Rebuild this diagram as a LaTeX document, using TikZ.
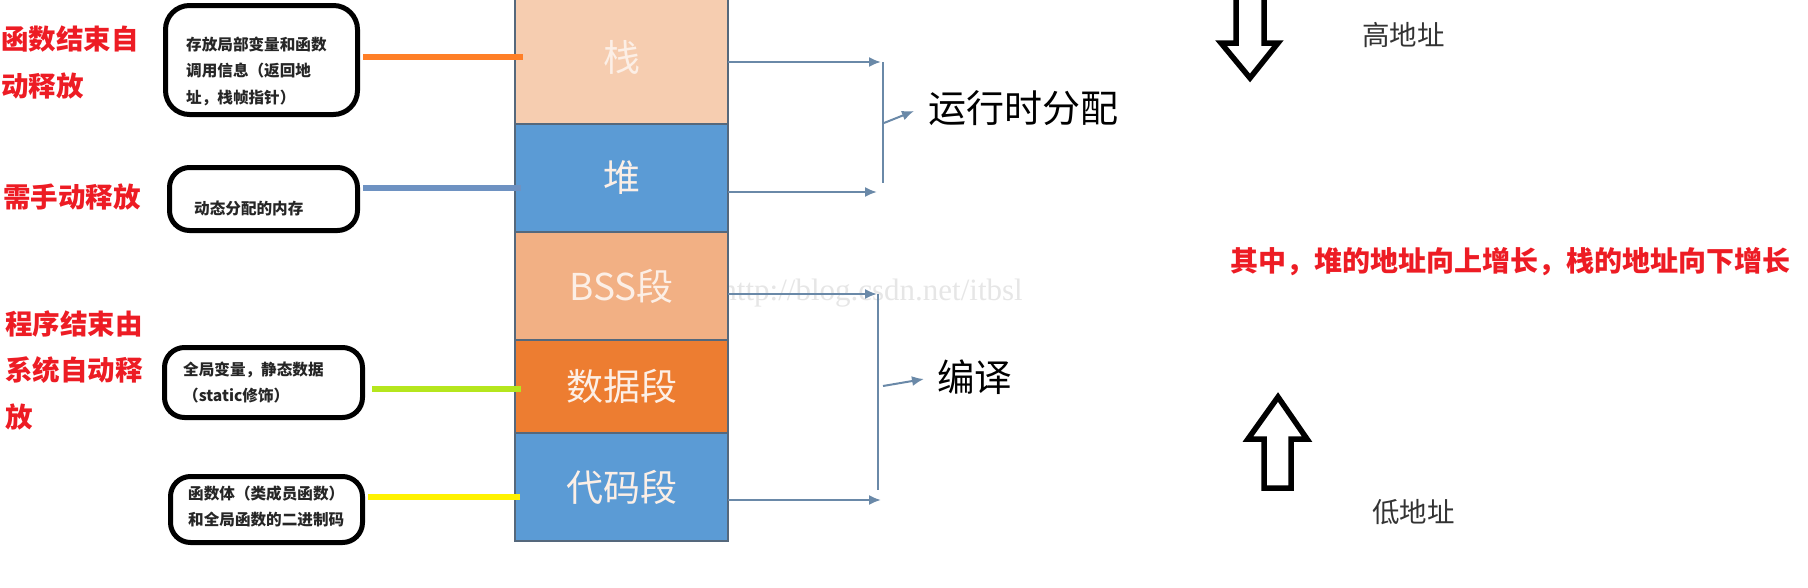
\documentclass[tikz,border=0pt]{standalone}
\usepackage{fontspec}
\setmainfont{Noto Sans CJK SC}
\newfontfamily\wmfont{Liberation Serif}
\usetikzlibrary{arrows.meta}
\definecolor{redT}{HTML}{ED1C24}
\definecolor{stackc}{HTML}{F6CDB0}
\definecolor{heapc}{HTML}{5B9BD5}
\definecolor{bssc}{HTML}{F2B084}
\definecolor{datac}{HTML}{ED7D31}
\definecolor{codec}{HTML}{5B9BD5}
\definecolor{segborder}{HTML}{55687C}
\definecolor{segtext}{HTML}{FCEFE6}
\definecolor{orangeL}{HTML}{FF7F27}
\definecolor{blueL}{HTML}{6E92C2}
\definecolor{greenL}{HTML}{B5E61D}
\definecolor{yellowL}{HTML}{FFF200}
\definecolor{flowc}{HTML}{6A89A8}
\definecolor{wmc}{HTML}{E6E6E6}
\begin{document}
\begin{tikzpicture}[x=1pt,y=-1pt,
  redlbl/.style={font=\bfseries\fontsize{27.5}{46.5}\selectfont, text=redT, align=left, inner sep=0pt, anchor=west},
  notebox/.style={draw=black, line width=5pt, rounded corners=20pt, inner sep=0pt, outer sep=0pt},
  notetext/.style={font=\bfseries\fontsize{15.6}{26.5}\selectfont, text=black!85, align=left, inner sep=0pt, anchor=west},
  seg/.style={draw=segborder, line width=2pt, minimum width=213pt, inner sep=0pt, outer sep=0pt, text=segtext, font=\fontsize{37}{37}\selectfont},
  link/.style={line width=5.5pt},
  flow/.style={draw=flowc, line width=2pt, -{Latex[length=12pt,width=10pt]}},
  flowline/.style={draw=flowc, line width=2pt},
  bigtext/.style={font=\fontsize{38}{38}\selectfont, text=black, inner sep=0pt, anchor=west},
  addr/.style={font=\fontsize{27.5}{27.5}\selectfont, text=black!80, inner sep=0pt, anchor=west},
  hollow/.style={draw=black, line width=5.5pt, line join=miter}
]
\useasboundingbox (0,0) rectangle (1808,587);

% watermark
\node[font=\wmfont\fontsize{31}{31}\selectfont, text=wmc, inner sep=0pt, anchor=base east] (wm) at (1023,300) {http://blog.csdn.net/itbsl};

% red labels
\node[redlbl] (l1) at (1,62.5) {函数结束自\\动释放};
\node[redlbl] (l2) at (3,197) {需手动释放};
\node[redlbl] (l3) at (5,370) {程序结束由\\系统自动释\\放};

% note boxes
\node[notebox, rounded corners=24pt, minimum width=192pt, minimum height=109pt] (b1) at (261.5,60) {};
\node[notebox, minimum width=188pt, minimum height=63pt] (b2) at (263.5,199) {};
\node[notebox, minimum width=198pt, minimum height=70pt] (b3) at (263.5,382.5) {};
\node[notebox, minimum width=192pt, minimum height=66pt] (b4) at (266.5,509.5) {};

\node[notetext] (t1) at (186,71) {存放局部变量和函数\\调用信息（返回地\\址，栈帧指针）};
\node[notetext] (t2) at (194,208) {动态分配的内存};
\node[notetext] (t3) at (183,382.5) {全局变量，静态数据\\（static修饰）};
\node[notetext] (t4) at (188,506.5) {函数体（类成员函数）\\和全局函数的二进制码};

% memory column
\node[seg, fill=stackc, minimum height=134pt] (stack) at (621.5,57) {栈};
\node[seg, fill=heapc, minimum height=108pt] (heap) at (621.5,178) {堆};
\node[seg, fill=bssc, minimum height=108pt] (bss) at (621.5,286) {BSS段};
\node[seg, fill=datac, minimum height=93pt] (data) at (621.5,386.5) {数据段};
\node[seg, fill=codec, minimum height=108pt] (code) at (621.5,487) {代码段};

% links from notes to segments
\draw[link, draw=orangeL, shorten <=5.5pt, shorten >=-8pt] (b1.east |- 0,57) -- (stack.west |- 0,57);
\draw[link, draw=blueL, shorten <=5.5pt, shorten >=-6pt] (b2.east |- 0,188) -- (heap.west |- 0,188);
\draw[link, draw=greenL, shorten <=9.5pt, shorten >=-6pt] (b3.east |- 0,389) -- (data.west |- 0,389);
\draw[link, draw=yellowL, shorten <=5.5pt, shorten >=-5pt] (b4.east |- 0,497) -- (code.west |- 0,497);

% right texts
\node[bigtext] (run) at (928,108) {运行时分配};
\node[bigtext, font=\fontsize{37.5}{37.5}\selectfont] (comp) at (937,377) {编译};

% run-time bracket
\coordinate (r1) at (881,62);
\coordinate (r2) at (877,192);
\coordinate (v1t) at (883,62);
\coordinate (v1b) at (883,183);
\coordinate (d1s) at (884,123);
\coordinate (d1e) at (914,111);
\draw[flow] (stack.east |- r1) -- (r1);
\draw[flow] (heap.east |- r2) -- (r2);
\draw[flowline] (v1t) -- (v1b);
\draw[flow] (d1s) -- (d1e);

% compile bracket
\coordinate (r3) at (877,294);
\coordinate (r4) at (881,500);
\coordinate (v2t) at (878,294);
\coordinate (v2b) at (878,490);
\coordinate (d2s) at (883,386);
\coordinate (d2e) at (924,379);
\draw[flow] (bss.east |- r3) -- (r3);
\draw[flow] (code.east |- r4) -- (r4);
\draw[flowline] (v2t) -- (v2b);
\draw[flow] (d2s) -- (d2e);

% address arrows
\draw[hollow] (1236,-10) -- (1236,43) -- (1221,43) -- (1250,78) -- (1278,43) -- (1264,43) -- (1264,-10);
\draw[hollow] (1278,397) -- (1307,439) -- (1291,439) -- (1291,488) -- (1264,488) -- (1264,439) -- (1248,439) -- cycle;

\node[addr] (hi) at (1362,35) {高地址};
\node[addr] (lo) at (1372,512) {低地址};

\node[font=\bfseries\fontsize{28}{28}\selectfont, text=redT, inner sep=0pt, anchor=west] (note) at (1230,262) {其中，堆的地址向上增长，栈的地址向下增长};
\end{tikzpicture}
\end{document}
